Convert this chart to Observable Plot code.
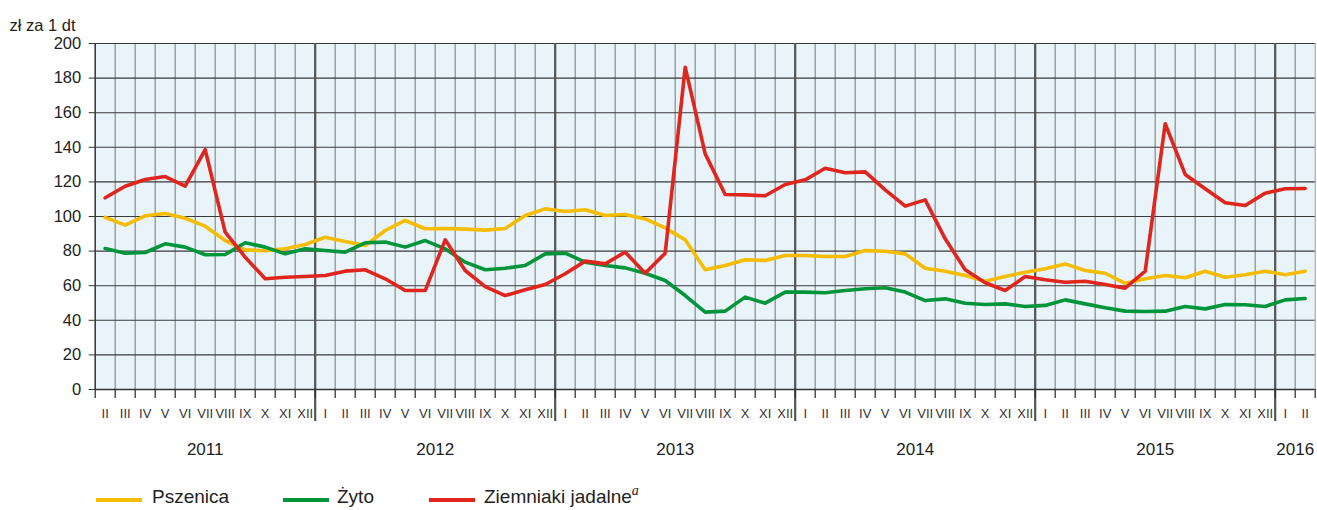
<!DOCTYPE html>
<html>
<head>
<meta charset="utf-8">
<script src="https://cdn.jsdelivr.net/npm/d3@7"></script>
<script src="https://cdn.jsdelivr.net/npm/@observablehq/plot@0.6"></script>
<style>
  body { margin: 0; background: #fff; font-family: "Liberation Sans", Arial, sans-serif; }
  #wrap { position: relative; width: 1317px; height: 510px; overflow: hidden; }
  #chart svg { display: block; }
  .leg { position: absolute; top: 485px; height: 24px; font-size: 19px; color: #222; line-height: 24px; white-space: nowrap; }
  .sw { position: absolute; top: 498px; height: 4px; width: 46px; }
  .sup { position: relative; top: -8px; font-family: "Liberation Serif", "Times New Roman", serif; font-style: italic; font-size: 14px; line-height: 0; }
</style>
</head>
<body>
<div id="wrap">
  <div id="chart"></div>
  <div class="sw" style="left:96px;background:#f6bd00"></div>
  <div class="leg" style="left:152px">Pszenica</div>
  <div class="sw" style="left:283px;background:#00953b"></div>
  <div class="leg" style="left:337px">Żyto</div>
  <div class="sw" style="left:429px;background:#e0251d"></div>
  <div class="leg" style="left:484px">Ziemniaki jadalne<span class="sup">a</span></div>
</div>
<script>
// Months II 2011 .. II 2016
const romanMonths = ["I","II","III","IV","V","VI","VII","VIII","IX","X","XI","XII"];
const years = ["2011","2012","2013","2014","2015","2016"];
const startMonthIndex = 1; // II 2011

const pszenica = [
  99.5, 95, 100.4, 101.7, 99, 94.4, 86.1, 80.7, 80.2, 81.3, 83.8,
  88, 85.5, 83.2, 91.9, 97.7, 92.9, 93.1, 92.7, 92.1, 93.1, 100.6, 104.4,
  102.9, 103.9, 100.6, 101.2, 98.6, 93.4, 86.5, 69.2, 71.7, 75, 74.6, 77.5,
  77.5, 76.9, 76.9, 80.3, 79.9, 78.4, 70.1, 68.4, 65.9, 62.6, 65.3, 67.8,
  69.8, 72.6, 68.8, 67.2, 61.4, 64, 65.9, 64.6, 68.4, 64.9, 66.3, 68.4,
  66.3, 68.4
];
const zyto = [
  81.5, 78.8, 79.2, 84.2, 82.3, 77.9, 78, 84.8, 82.3, 78.4, 81.3,
  80.3, 79.4, 84.8, 85.2, 82.3, 86.1, 81.3, 73.6, 69.2, 70.1, 71.7, 78.4,
  78.8, 73.6, 71.7, 70.3, 67.2, 63, 54.3, 44.7, 45.3, 53.4, 49.9, 56.3,
  56.3, 55.9, 57.2, 58.2, 58.8, 56.3, 51.4, 52.4, 49.9, 49.1, 49.5, 48,
  48.6, 51.8, 49.5, 47.2, 45.3, 45.1, 45.3, 48, 46.6, 49.1, 49, 48,
  51.8, 52.6
];
const ziemniaki = [
  110.8, 117.5, 121.4, 123.1, 117.5, 138.7, 90.9, 76.5, 64, 64.9, 65.3,
  65.9, 68.4, 69.2, 64, 57.2, 57.2, 86.5, 68.8, 59.5, 54.3, 57.6, 60.7,
  66.9, 74.2, 72.6, 79.4, 67.2, 78.8, 186.3, 136.2, 112.7, 112.5, 112, 118.5,
  121.2, 127.9, 125.3, 125.8, 115.4, 106, 109.6, 87.1, 69.2, 61.7, 57.2, 65.3,
  63.4, 62, 62.6, 60.7, 58.6, 68.4, 153.6, 124.3, 116, 107.9, 106.4, 113.5,
  116, 116.2
];

const n = pszenica.length;
const idx = d3.range(n);
const monthLabels = idx.map(i => romanMonths[(i + startMonthIndex) % 12]);
const yearOf = i => Math.floor((i + startMonthIndex) / 12);
const yearSpans = years.map((y, k) => {
  const members = idx.filter(i => yearOf(i) === k);
  return {year: y, start: members[0], end: members[members.length - 1] + 1};
});
const yearBoundaries = yearSpans.slice(1).map(s => s.start);

const series = [
  {name: "Pszenica", values: pszenica, color: "#f6bd00"},
  {name: "Żyto", values: zyto, color: "#00953b"},
  {name: "Ziemniaki jadalne", values: ziemniaki, color: "#e0251d"}
];
const lineData = series.flatMap(s => s.values.map((v, i) => ({series: s.name, i, v})));

const font = "'Liberation Sans', Arial, sans-serif";

const chart = Plot.plot({
  width: 1317,
  height: 470,
  marginLeft: 94.7,
  marginRight: 2.3,
  marginTop: 43,
  marginBottom: 81,
  style: {fontFamily: font, color: "#333", background: "#fff", overflow: "visible"},
  x: {domain: [0, n], axis: null},
  y: {domain: [0, 200], axis: null},
  color: {domain: series.map(s => s.name), range: series.map(s => s.color)},
  marks: [
    Plot.frame({fill: "#e8f3fa", stroke: "#9a9a9a"}),
    Plot.ruleX(d3.range(1, n), {stroke: "#8a8a8a", strokeWidth: 1.2}),
    Plot.ruleY(d3.range(20, 201, 20), {stroke: "#3a3a3a", strokeWidth: 1.1}),
    Plot.ruleX(yearBoundaries, {y1: -18.5, y2: 200, stroke: "#555", strokeWidth: 2.2}),
    Plot.ruleX([0], {stroke: "#333", strokeWidth: 1.4}),
    Plot.ruleY([0], {stroke: "#333", strokeWidth: 1.4}),
    Plot.axisX({ticks: d3.range(0, n + 1), tickSize: 9, tickFormat: () => "", stroke: "#333", strokeWidth: 1.3}),
    Plot.axisY({ticks: d3.range(0, 201, 20), tickSize: 6, tickPadding: 8, fontSize: 16.5, label: null, stroke: "#333", fill: "#222"}),
    Plot.line(lineData, {x: d => d.i + 0.5, y: "v", stroke: "series", z: "series", strokeWidth: 3.6}),
    Plot.text(idx, {x: i => i + 0.5, y: () => 0, text: i => monthLabels[i], dy: 24, fontSize: 13, fill: "#333"}),
    Plot.text(yearSpans, {x: d => (d.start + d.end) / 2, y: () => 0, text: "year", dy: 60, fontSize: 17, fill: "#222"}),
    Plot.text(["zł za 1 dt"], {frameAnchor: "top-left", dx: -85.7, dy: -24, textAnchor: "start", fontSize: 16.5, fill: "#222"})
  ]
});
document.getElementById("chart").appendChild(chart);
</script>
</body>
</html>
